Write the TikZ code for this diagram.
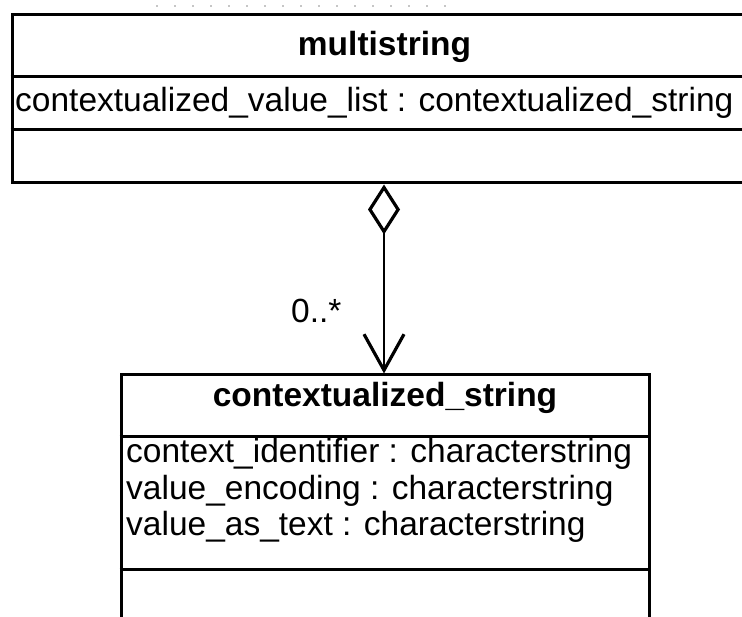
\documentclass[tikz,border=0pt]{standalone}
\usepackage{fontspec}
\setmainfont{Liberation Sans}
\usetikzlibrary{arrows.meta}
\begin{document}
\begin{tikzpicture}[x=1pt,y=-1pt,
  classbox/.style={draw, line width=3pt, inner sep=0pt},
  divider/.style={line width=3pt},
  txt/.style={inner sep=0pt, font=\fontsize{33.5}{40}\selectfont},
  title/.style={txt, font=\fontsize{33.5}{40}\selectfont\bfseries, anchor=base},
  attr/.style={txt, anchor=base west},
  assoc/.style={line width=2.2pt,
    {Diamond[open, fill=white, length=50pt, width=32pt, line width=3.2pt]}-{Straight Barb[length=36pt, width=40pt, line width=3.2pt]}}
]
\useasboundingbox (0,0) rectangle (742,617);
\clip (0,0) rectangle (742,617);
\fill[white] (0,0) rectangle (742,617);

% faint dotted trace along the top edge
\draw[gray!45, line width=1.2pt, dash pattern=on 2pt off 16pt] (156,6) -- (455,6);

% class: multistring (runs past the right edge)
\node[classbox, minimum width=745pt, minimum height=168pt] (ms) at (384.5,99) {};
\draw[divider] (ms.west |- 0,77) -- (ms.east |- 0,77);
\draw[divider] (ms.west |- 0,130) -- (ms.east |- 0,130);
\node[title] (mstitle) at (384.5,56) {multistring};
\node[attr] (msattr) at (15,112) {contextualized\_value\_list : contextualized\_string};

% class: contextualized_string (runs past the bottom edge)
\node[classbox, minimum width=528pt, minimum height=285pt] (cs) at (385,517.5) {};
\draw[divider] (cs.west |- 0,437) -- (cs.east |- 0,437);
\draw[divider] (cs.west |- 0,569) -- (cs.east |- 0,569);
\node[title] (cstitle) at (385,407) {contextualized\_string};
\node[attr] (csa1) at (126,463) {context\_identifier : characterstring};
\node[attr] (csa2) at (126,500) {value\_encoding : characterstring};
\node[attr] (csa3) at (126,536) {value\_as\_text : characterstring};

% aggregation with multiplicity
\draw[assoc] (384,0 |- ms.south) -- (384,0 |- cs.north);
\node[attr] (mult) at (291,323) {0..*};
\end{tikzpicture}
\end{document}
